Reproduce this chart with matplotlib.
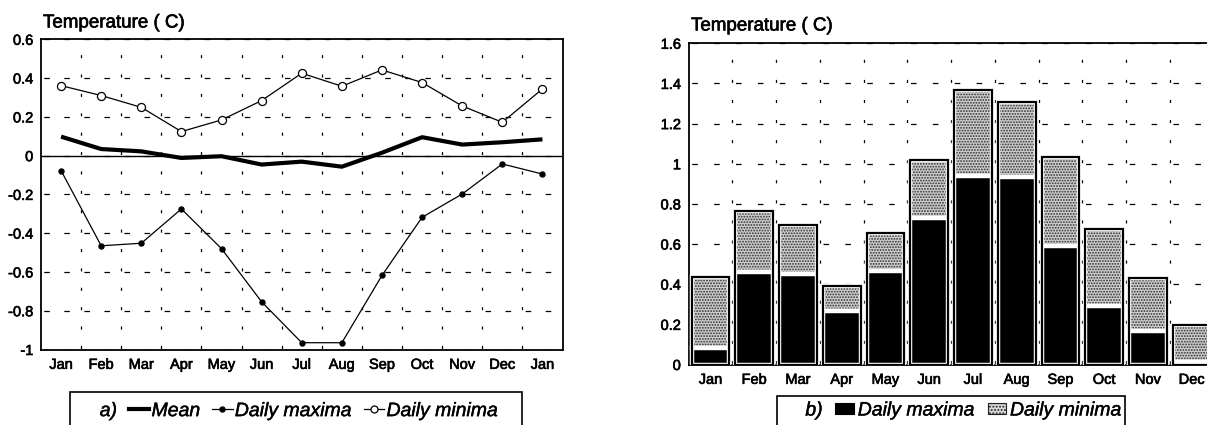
import matplotlib
matplotlib.use("Agg")
import matplotlib.pyplot as plt
from matplotlib.lines import Line2D
from matplotlib.patches import Patch, Rectangle
import matplotlib.patheffects as pe
import numpy as np

plt.rcParams['font.family'] = ['Liberation Sans', 'DejaVu Sans']
plt.rcParams['axes.unicode_minus'] = False
plt.rcParams['lines.scale_dashes'] = False
plt.rcParams['hatch.linewidth'] = 0.9

# ---------------- data ----------------
months_a = ['Jan', 'Feb', 'Mar', 'Apr', 'May', 'Jun', 'Jul', 'Aug', 'Sep',
            'Oct', 'Nov', 'Dec', 'Jan']
mean_a = [0.098, 0.034, 0.022, -0.012, -0.003, -0.046, -0.031, -0.057,
          0.015, 0.095, 0.057, 0.069, 0.084]
max_a = [-0.077, -0.465, -0.452, -0.275, -0.48, -0.754, -0.965, -0.965,
         -0.618, -0.318, -0.198, -0.043, -0.095]
min_a = [0.361, 0.31, 0.249, 0.124, 0.184, 0.284, 0.425, 0.358, 0.442,
         0.377, 0.256, 0.172, 0.344]
yticks_a = [0.6, 0.4, 0.2, 0, -0.2, -0.4, -0.6, -0.8, -1]
ylabels_a = ['0.6', '0.4', '0.2', '0', '-0.2', '-0.4', '-0.6', '-0.8', '-1']

months_b = ['Jan', 'Feb', 'Mar', 'Apr', 'May', 'Jun', 'Jul', 'Aug', 'Sep',
            'Oct', 'Nov', 'Dec']
max_b = [0.082, 0.462, 0.45, 0.267, 0.465, 0.731, 0.94, 0.936, 0.589,
         0.289, 0.168, 0.011]
min_b = [0.355, 0.302, 0.246, 0.126, 0.19, 0.289, 0.425, 0.372, 0.447,
         0.384, 0.264, 0.187]
yticks_b = [1.6, 1.4, 1.2, 1, 0.8, 0.6, 0.4, 0.2, 0]
ylabels_b = ['1.6', '1.4', '1.2', '1', '0.8', '0.6', '0.4', '0.2', '0']

title_text = 'Temperature ( C)'
legend_a_labels = ['a)', 'Mean', 'Daily maxima', 'Daily minima']
legend_b_labels = ['b)', 'Daily maxima', 'Daily minima']

# ---------------- figure ----------------
W, H = 1207, 425
fig = plt.figure(figsize=(W / 100, H / 100), dpi=100)
BOLD = [pe.withStroke(linewidth=0.45, foreground='black')]


def px(x0, y0, x1, y1):
    return [x0 / W, 1 - y1 / H, (x1 - x0) / W, (y1 - y0) / H]


axA = fig.add_axes(px(41, 39.3, 562.5, 349.5))
axB = fig.add_axes(px(688.6, 43.3, 1213.6, 364.5))

TICK_FS = 10.5
LEG_FS = 14.0


def style_axes(ax, yunit_px, xhalf_px):
    for s in ax.spines.values():
        s.set_linewidth(1.3)
        s.set_color('black')
    ax.tick_params(axis='both', which='both', length=0, labelsize=TICK_FS,
                   colors='black')
    ax.tick_params(axis='y', pad=5.5)
    ax.tick_params(axis='x', pad=6)
    per_v = yunit_px * 0.1 / 1.389
    on_v = 2.2
    ax.grid(which='minor', axis='x', color='black', linewidth=0.9,
            linestyle=(per_v - on_v / 2, (on_v, per_v - on_v)))
    per_h = xhalf_px / 1.389
    on_h = 4.0
    ax.grid(which='major', axis='y', color='black', linewidth=0.9,
            linestyle=(per_h - on_h / 2, (on_h, per_h - on_h)))
    ax.grid(which='major', axis='x', visible=False)
    ax.set_axisbelow(True)
    for lab in ax.get_xticklabels() + ax.get_yticklabels():
        lab.set_path_effects(BOLD)


# ---------------- panel a ----------------
xa = np.arange(len(months_a))
axA.plot(xa, mean_a, color='black', lw=3.0, zorder=3, solid_capstyle='butt')
axA.plot(xa, max_a, color='black', lw=0.9, marker='o', ms=3.6,
         mfc='black', mec='black', zorder=3)
axA.plot(xa, min_a, color='black', lw=0.9, marker='o', ms=5.8,
         mfc='white', mec='black', mew=0.9, zorder=3)
axA.axhline(0, color='black', lw=1.0, zorder=2)
axA.set_xlim(-0.5, len(months_a) - 0.5)
axA.set_ylim(-1, 0.6)
axA.set_yticks(yticks_a, ylabels_a)
axA.set_xticks(xa, months_a)
axA.set_xticks(xa[:-1] + 0.5, minor=True)
style_axes(axA, (349.5 - 39.3) / 1.6, (562.5 - 41) / 13 / 2)

# ---------------- panel b ----------------
xb = np.arange(len(months_b))
bw = 0.86
tot_b = np.array(max_b) + np.array(min_b)
axB.bar(xb, min_b, bottom=max_b, width=bw, color='#cfcfcf', hatch='......',
        edgecolor='#2e2e2e', linewidth=0, zorder=2)
axB.bar(xb, min_b, bottom=max_b, width=bw, fill=False, edgecolor='white',
        linewidth=3.2, zorder=3)
axB.bar(xb, max_b, width=bw, color='black', edgecolor='white',
        linewidth=3.2, zorder=3)
axB.bar(xb, tot_b, width=bw, fill=False, edgecolor='black', linewidth=1.6,
        zorder=4)
axB.set_xlim(-0.5, len(months_b) - 0.5)
axB.set_ylim(0, 1.6)
axB.set_yticks(yticks_b, ylabels_b)
axB.set_xticks(xb, months_b)
axB.set_xticks(xb + 0.5, minor=True)
style_axes(axB, (364.5 - 43.3) / 1.6, (1213.6 - 688.6) / 12 / 2)

# ---------------- titles ----------------
for xt, yt in [(43, 27.5), (691, 30.5)]:
    fig.text(xt / W, 1 - yt / H, title_text, fontsize=13.5, ha='left',
             va='baseline', path_effects=BOLD)

# ---------------- legends ----------------
leg_font = {'size': LEG_FS, 'style': 'italic'}
blank = Line2D([], [], linestyle='none')
hMean = Line2D([], [], color='black', lw=3.0)
hMax = Line2D([], [], color='black', lw=0.9, marker='o', ms=3.6, mfc='black')
hMin = Line2D([], [], color='black', lw=0.9, marker='o', ms=5.0, mfc='white',
              mew=0.9)
legA = fig.legend([blank, hMean, hMax, hMin], legend_a_labels,
                  loc='upper left', bbox_to_anchor=(77 / W, 1 - 402.5 / H),
                  ncol=4, prop=leg_font, frameon=False,
                  borderaxespad=0, borderpad=0, handlelength=1.05,
                  handletextpad=0.12, columnspacing=0.6)
fig.add_artist(Rectangle((70 / W, 1 - 440 / H), (522 - 70) / W,
                         (440 - 392) / H, transform=fig.transFigure,
                         fill=False, edgecolor='black', linewidth=1.2))

hDark = Patch(facecolor='black', edgecolor='black', linewidth=0.8)
hLight = Patch(facecolor='#d8d8d8', edgecolor='#222222', hatch='.....',
               linewidth=0.8)
legB = fig.legend([blank, hDark, hLight], legend_b_labels,
                  loc='upper left', bbox_to_anchor=(783 / W, 1 - 402.5 / H),
                  ncol=3, prop=leg_font, frameon=False,
                  borderaxespad=0, borderpad=0, handlelength=0.95,
                  handleheight=0.55, handletextpad=0.2, columnspacing=0.65)
fig.add_artist(Rectangle((777 / W, 1 - 440 / H), (1125 - 777) / W,
                         (440 - 395.5) / H, transform=fig.transFigure,
                         fill=False, edgecolor='black', linewidth=1.2))
for leg in (legA, legB):
    for t in leg.get_texts():
        t.set_path_effects([pe.withStroke(linewidth=0.3, foreground='black')])

fig.savefig('out.png', dpi=100)
